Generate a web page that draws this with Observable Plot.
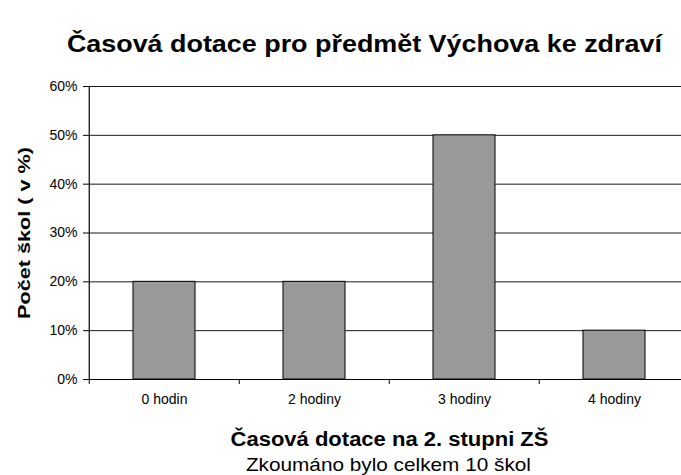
<!DOCTYPE html>
<html>
<head>
<meta charset="utf-8">
<script src="https://cdn.jsdelivr.net/npm/d3@7"></script>
<script src="https://cdn.jsdelivr.net/npm/@observablehq/plot@0.6"></script>
<style>
  html, body { margin: 0; padding: 0; background: #fff; }
  body { width: 681px; height: 475px; overflow: hidden; font-family: "Liberation Sans", Arial, sans-serif; }
  #title { width: 681px; height: 66px; box-sizing: border-box; padding-top: 30px; text-align: center; font-weight: bold; font-size: 23px; line-height: 28px; color: #000; }
  #title span { display: inline-block; position: relative; left: 24px; white-space: nowrap; }
  #caption { width: 681px; box-sizing: border-box; padding-left: 96px; text-align: center; font-size: 19px; line-height: 26px; color: #000; }
  #caption span { display: inline-block; white-space: nowrap; }
  #chart svg { display: block; overflow: hidden; }
</style>
</head>
<body>
<div id="title"><span>Časová dotace pro předmět Výchova ke zdraví</span></div>
<div id="chart"></div>
<div id="caption"><span>Zkoumáno bylo celkem 10 škol</span></div>
<script>
const categories = ["0 hodin", "2 hodiny", "3 hodiny", "4 hodiny"];
const shares = [0.20, 0.20, 0.50, 0.10];
const yTicks = [0, 0.1, 0.2, 0.3, 0.4, 0.5, 0.6];
const xLabel = "Časová dotace na 2. stupni ZŠ";
const yLabel = "Počet škol ( v %)";

const data = categories.map((c, i) => ({category: c, share: shares[i]}));

const W = 681, H = 386;
const mLeft = 88, mRight = -9, mTop = 20, mBottom = 73;
const step = (W - mRight - mLeft) / categories.length;

const chart = Plot.plot({
  width: W,
  height: H,
  marginLeft: mLeft,
  marginRight: mRight,
  marginTop: mTop,
  marginBottom: mBottom,
  style: {fontFamily: "Liberation Sans, Arial, sans-serif", fontSize: "14px", color: "#000", background: "#fff", overflow: "hidden"},
  x: {domain: categories, range: [mLeft, W - mRight], paddingInner: 0.59, paddingOuter: 0.295, label: null},
  y: {domain: [0, 0.6], label: null},
  marks: [
    Plot.gridY(yTicks, {stroke: "#000", strokeOpacity: 0.9, strokeWidth: 1}),
    Plot.barY(data, {x: "category", y: "share", fill: "#999999", stroke: "#000", strokeWidth: 1}),
    Plot.ruleY([0], {stroke: "#000", strokeWidth: 1.2}),
    Plot.ruleX([categories[0]], {x: d => d, dx: -step / 2, y1: 0, y2: 0.6, stroke: "#000", strokeWidth: 1.2}),
    Plot.axisY(yTicks, {tickFormat: d3.format(".0%"), tickSize: 5, tickPadding: 6, stroke: "#000", fontSize: 14}),
    Plot.axisX({tickSize: 5, text: null, dx: -step / 2, stroke: "#000"}),
    Plot.axisX({tickSize: 0, tickPadding: 15, fontSize: 14}),
    Plot.text([xLabel], {frameAnchor: "bottom", dy: 60, textAnchor: "middle", lineAnchor: "middle", fontWeight: "bold", fontSize: 20, fill: "#000"}),
    Plot.text([yLabel], {frameAnchor: "left", dx: -64, rotate: -90, textAnchor: "middle", lineAnchor: "middle", fontWeight: "bold", fontSize: 17, fill: "#000"})
  ]
});
document.getElementById("chart").appendChild(chart);

// stretch texts to the widths seen in the reference
chart.querySelectorAll("text").forEach(t => {
  if (t.textContent === xLabel) {
    t.setAttribute("textLength", 318);
    t.setAttribute("lengthAdjust", "spacingAndGlyphs");
  } else if (t.textContent === yLabel) {
    const s = 172 / t.getComputedTextLength();
    const tr = t.getAttribute("transform") || "";
    t.setAttribute("transform", `${tr} scale(${s},1)`);
  }
});
function fit(sel, target) {
  const el = document.querySelector(sel);
  const w = el.getBoundingClientRect().width;
  el.style.transform = `scaleX(${target / w})`;
}
fit("#title span", 595);
fit("#caption span", 285);
</script>
</body>
</html>
